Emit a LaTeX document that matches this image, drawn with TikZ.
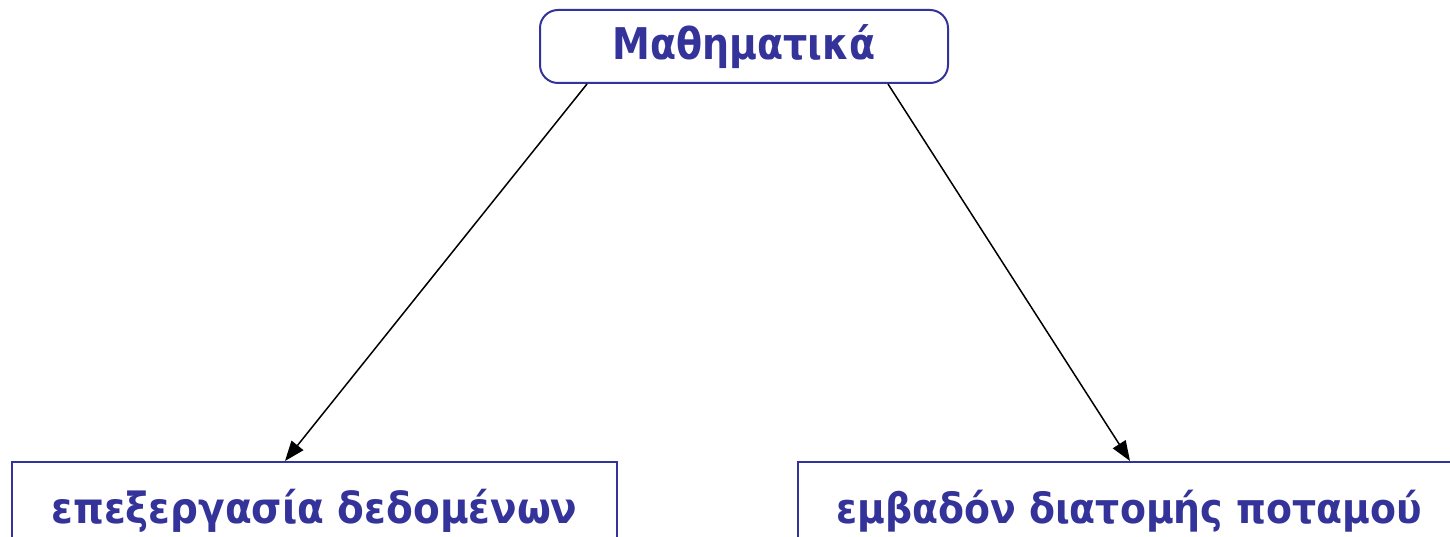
\documentclass[tikz,border=0pt]{standalone}
\usepackage{fontspec}
\setmainfont{DejaVu Sans}
\usetikzlibrary{arrows.meta}
\definecolor{boxblue}{HTML}{333399}
\tikzset{
  topbox/.style={draw=boxblue, line width=2pt, rounded corners=18pt, minimum width=408pt, minimum height=73pt, inner sep=0pt, text=boxblue, font=\fontsize{38}{46}\selectfont\bfseries},
  lowbox/.style={draw=boxblue, line width=2pt, minimum height=98pt, inner sep=0pt, text=boxblue, font=\fontsize{39}{47}\selectfont\bfseries},
  link/.style={draw=black, line width=1.5pt, -{Triangle[length=20pt,width=15pt]}}
}
\begin{document}
\begin{tikzpicture}[x=1pt,y=1pt]
\useasboundingbox (0,0) rectangle (1450,-537);
\clip (0,0) rectangle (1450,-537);
\node[topbox] (top) at (744,-46.5) {\raisebox{-4pt}{\scalebox{1}[1.15]{Μαθηματικά}}};
\node[lowbox, minimum width=605pt] (left) at (314.5,-511) {\scalebox{1}[1.1]{επεξεργασία δεδομένων}};
\node[lowbox, minimum width=662pt] (right) at (1129,-511) {\scalebox{0.97}[1.07]{εμβαδόν διατομής ποταμού}};
\draw[link] ([xshift=-157pt]top.south) -- ([xshift=-29.5pt]left.north);
\draw[link] ([xshift=144pt]top.south) -- ([xshift=1pt]right.north);
\end{tikzpicture}
\end{document}
